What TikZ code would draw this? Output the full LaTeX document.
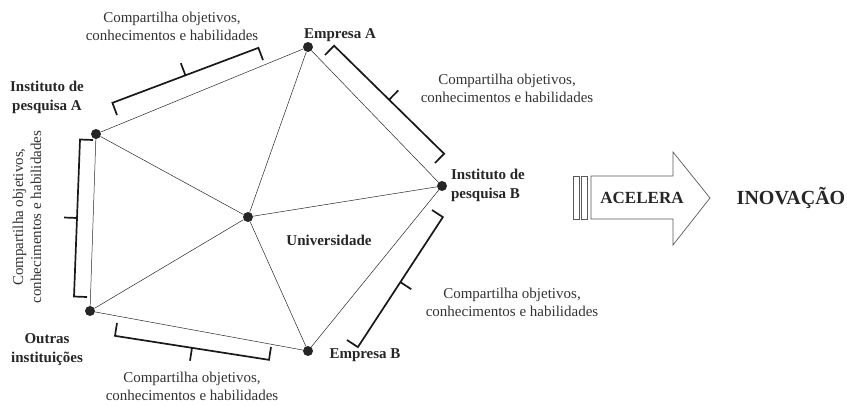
\documentclass[tikz,border=0pt]{standalone}
\usepackage{fontspec}
\setmainfont{Liberation Serif}
\usetikzlibrary{calc}
\newcommand{\share}{Compartilha objetivos,\\conhecimentos e habilidades}
% square bracket between two hook ends, drawn on the right of #1->#2
\newcommand{\bracket}[2]{%
\coordinate (p1) at ($(#1)!13pt!-90:(#2)$);
\coordinate (p2) at ($(#2)!13pt!90:(#1)$);
\coordinate (pm) at ($(p1)!0.5!(p2)$);
\draw[bracket] (#1) -- (p1) -- (p2) -- (#2) (pm) -- ($(pm)!13pt!-90:(p2)$);}

\begin{document}
\begin{tikzpicture}[x=1pt,y=-1pt,
  actor/.style={circle,fill=black!85,inner sep=0pt,minimum size=10pt},
  lbl/.style={font=\fontsize{15}{19}\selectfont\bfseries,align=center,text=black!85},
  note/.style={font=\fontsize{15}{18}\selectfont,align=center,text=black!80},
  link/.style={draw=black!85,line width=0.5pt},
  bracket/.style={line width=1.7pt,line join=miter,black!90},
  bigarrow/.style={draw=black!65,line width=0.7pt,fill=white}]
\useasboundingbox (0,0) rectangle (847,405);
\node[actor] (ea) at (308,47) {};
\node[actor] (ia) at (96,134) {};
\node[actor] (ib) at (442,186) {};
\node[actor] (un) at (248,217) {};
\node[actor] (oi) at (90,311) {};
\node[actor] (eb) at (308,351) {};
\path[link] (ia) edge (ea) (ea) edge (ib) (ea) edge (un) (ia) edge (un)
  (ia) edge (oi) (ib) edge (un) (ib) edge (eb) (un) edge (oi)
  (un) edge (eb) (oi) edge (eb);
\node[lbl] (ea-l) at (340,35) {Empresa A};
\node[lbl] (ia-l) at (47,97) {Instituto de\\pesquisa A};
\node[lbl,align=left] (ib-l) at (488,185) {Instituto de\\pesquisa B};
\node[lbl] (un-l) at (329,240) {Universidade};
\node[lbl] (oi-l) at (47,350) {Outras\\instituições};
\node[lbl] (eb-l) at (365,355) {Empresa B};
% brackets
\coordinate (b1a) at (263,60);  \coordinate (b1b) at (117,115);
\coordinate (b2a) at (435,163); \coordinate (b2b) at (325,55);
\coordinate (b3a) at (347,340); \coordinate (b3b) at (432,210);
\coordinate (b4a) at (117,323); \coordinate (b4b) at (271,347);
\coordinate (b5a) at (93,140);  \coordinate (b5b) at (87,297);
\bracket{b1a}{b1b}
\bracket{b2a}{b2b}
\bracket{b3a}{b3b}
\bracket{b4a}{b4b}
\bracket{b5a}{b5b}
\node[note] (n1) at (172,26) {\share};
\node[note] (n2) at (507,88) {\share};
\node[note] (n3) at (512,302) {\share};
\node[note] (n4) at (192,386) {\share};
\node[note,rotate=90] (n5) at (27,217) {\share};
% arrow
\draw[bigarrow] (573,176) rectangle (579,219) (581,176) rectangle (587,219);
\draw[bigarrow] (591,176) -- (673,176) -- (673,152) -- (710,198) -- (673,245)
  -- (673,219) -- (591,219) -- cycle;
\node[font=\fontsize{17}{20}\selectfont\bfseries,text=black!85] (acel) at (642,198) {ACELERA};
\node[font=\fontsize{20}{24}\selectfont\bfseries,text=black!85] (inov) at (791,198) {INOVAÇÃO};
\end{tikzpicture}
\end{document}
